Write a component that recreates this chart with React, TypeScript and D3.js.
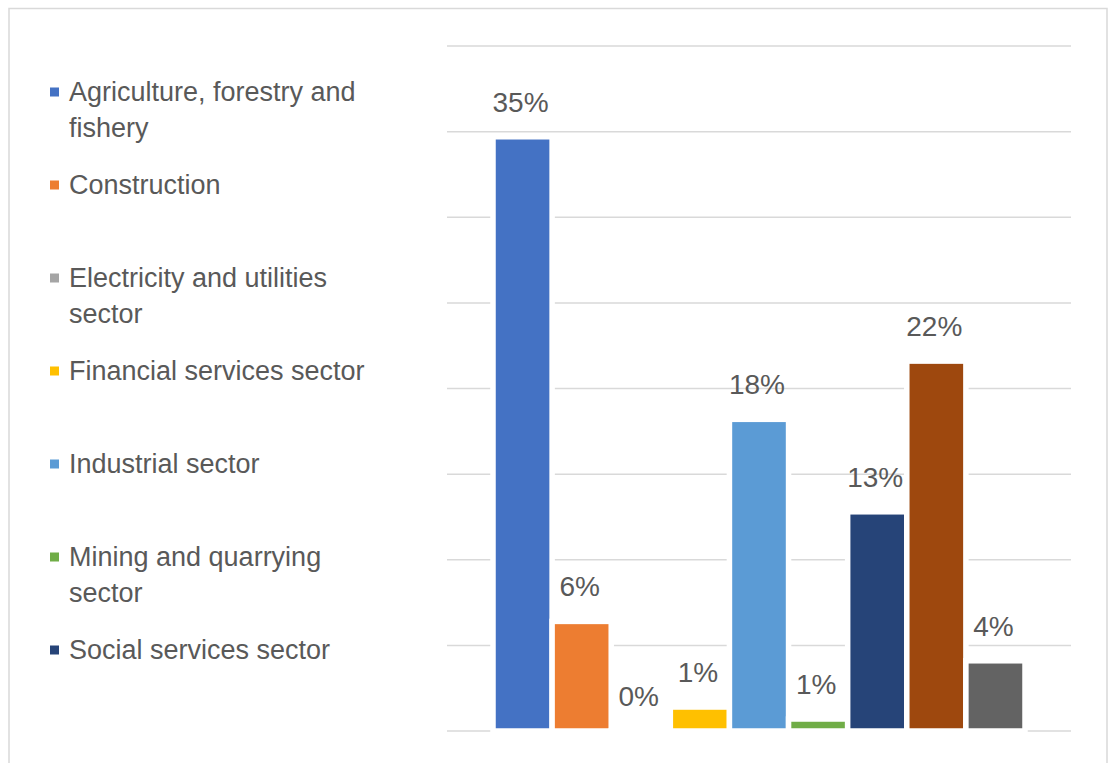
import React from 'react';
import * as d3 from 'd3';

// ---- data ----
const categories = [
  'Agriculture, forestry and fishery',
  'Construction',
  'Electricity and utilities sector',
  'Financial services sector',
  'Industrial sector',
  'Mining and quarrying sector',
  'Social services sector',
  'Trade sector',
  'Transport sector',
];
const shares = [34.7, 6.4, 0, 1.4, 18.2, 0.7, 12.8, 21.6, 4.1];
const colors = ['#4472C4', '#ED7D31', '#A5A5A5', '#FFC000', '#5B9BD5', '#70AD47', '#264478', '#9E480E', '#636363'];
const yTicks = [0, 5, 10, 15, 20, 25, 30, 35, 40];

// ---- layout ----
const W = 1112;
const H = 763;
const plot = { left: 447, right: 1071, top: 46, bottom: 731 };
const groupInset = 46;
const FONT = "'Liberation Sans', Arial, sans-serif";
const TEXT = '#595959';
const GRID = '#d9d9d9';
const legendFont = 27;
const labelFont = 28;
const legendX = 50;
const legendTextX = 69;
const legendTop = 92;
const legendStep = 93;
const legendLine = 36;
const legendMaxW = 305;
const legendLimit = 700;

function wrap(text: string, maxW: number): string[] {
  const canvas = document.createElement('canvas');
  const ctx = canvas.getContext('2d');
  if (!ctx) return [text];
  ctx.font = `${legendFont}px ${FONT}`;
  const words = text.split(' ');
  const lines: string[] = [];
  let cur = '';
  for (const w of words) {
    const t = cur ? cur + ' ' + w : w;
    if (cur && ctx.measureText(t).width > maxW) {
      lines.push(cur);
      cur = w;
    } else cur = t;
  }
  if (cur) lines.push(cur);
  return lines;
}

export default function App() {
  const y = d3.scaleLinear().domain([0, 40]).range([plot.bottom, plot.top]);
  const x = d3
    .scaleBand<string>()
    .domain(categories)
    .range([plot.left + groupInset, plot.right - groupInset])
    .paddingInner(0)
    .paddingOuter(0);
  const color = d3.scaleOrdinal<string, string>().domain(categories).range(colors);
  const fmt = d3.format('.0%');
  const bw = x.bandwidth();

  return (
    <svg
      width={W}
      height={H}
      style={{ position: 'absolute', left: 0, top: 0, background: '#fff' }}
      fontFamily={FONT}
    >
      <rect x={0} y={0} width={W} height={H} fill="#fff" />
      {/* gridlines */}
      <g>
        {yTicks.map((t) => (
          <line
            key={t}
            x1={plot.left}
            x2={plot.right}
            y1={y(t)}
            y2={y(t)}
            stroke={GRID}
            strokeWidth={1.5}
          />
        ))}
      </g>
      {/* bars */}
      <g>
        {categories.map((c, i) => {
          const top = y(shares[i]);
          const h = Math.max(y(0) - top, 0.01);
          return (
            <rect
              key={c}
              x={x(c)}
              y={y(0) - h}
              width={bw}
              height={h}
              fill={color(c)}
              stroke="#fff"
              strokeWidth={5.5}
            />
          );
        })}
      </g>
      {/* data labels */}
      <g fontSize={labelFont} fill={TEXT} textAnchor="middle">
        {categories.map((c, i) => (
          <text key={c} x={(x(c) as number) + bw / 2 - 2} y={y(shares[i]) - 25}>
            {fmt(shares[i] / 100)}
          </text>
        ))}
      </g>
      {/* legend */}
      <g fontSize={legendFont} fill={TEXT}>
        {categories.map((c, i) => {
          const cy = legendTop + i * legendStep;
          if (cy > legendLimit) return null;
          const lines = wrap(c, legendMaxW);
          return (
            <g key={c}>
              <rect x={legendX} y={cy - 4.5} width={9} height={9} fill={color(c)} />
              {lines.map((l, k) => (
                <text key={k} x={legendTextX} y={cy + 9 + k * legendLine}>
                  {l}
                </text>
              ))}
            </g>
          );
        })}
      </g>
      {/* chart border */}
      <rect x={9} y={8.5} width={1098} height={800} fill="none" stroke={GRID} strokeWidth={1.5} />
    </svg>
  );
}
